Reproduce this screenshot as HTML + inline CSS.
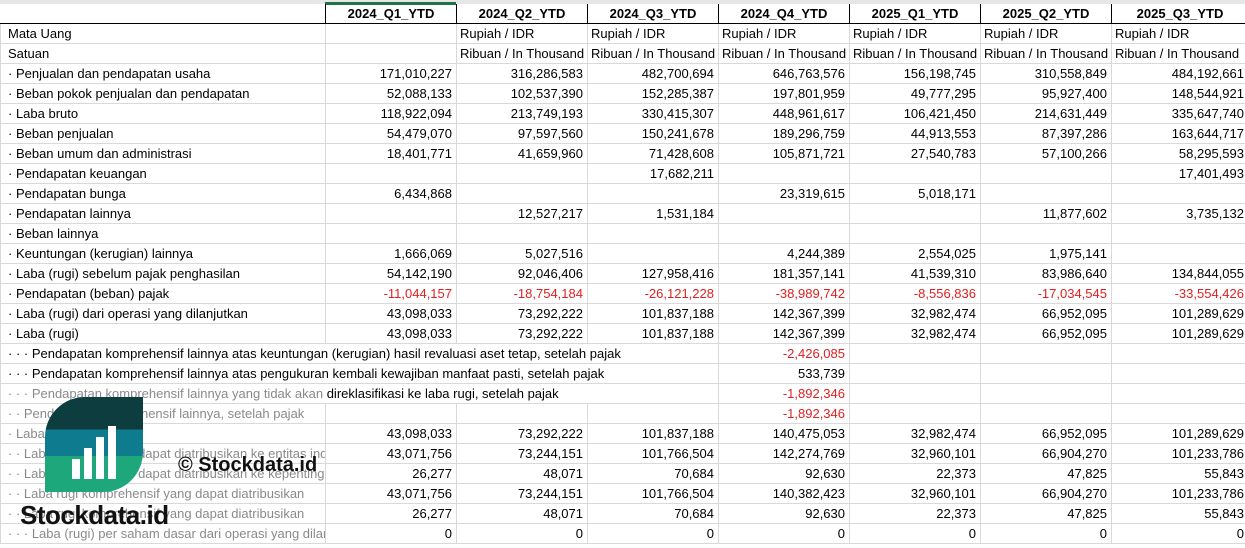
<!DOCTYPE html>
<html><head><meta charset="utf-8"><style>
body{margin:0;width:1245px;height:548px;overflow:hidden;background:#fff;font-family:"Liberation Sans",Arial,sans-serif;font-size:13px;color:#000;position:relative}
.top{position:absolute;left:0;top:0;width:1245px;height:4px;background:#e6e6e6}
.sel{position:absolute;left:325px;top:2px;width:131px;height:3px;background:#217346}
table{position:absolute;left:0;top:4px;border-collapse:collapse;table-layout:fixed;width:1248px}
td{height:19px;padding:0 4px;border:1px solid #d9d9d9;white-space:nowrap;overflow:visible;text-align:right;line-height:19px}
td:first-child{text-align:left;padding-left:7px}
tr.h td{font-weight:bold;text-align:center;border:1px solid #000;border-top:none}
tr.h td:first-child{border-left:none}
td.l{text-align:left;padding-left:3px;overflow:hidden}
.r{color:#e02020}
.g td:first-child{color:#8a8a8a}
.t{border-right-color:transparent}
.m{border-left-color:transparent;border-right-color:transparent}
.e{border-left-color:transparent}
.logo{position:absolute;left:45px;top:397px;width:98px;height:95px;border-radius:40px 0 40px 0;overflow:hidden;background:linear-gradient(#0d3d3f 0,#0d3d3f 34%,#0f7b8e 34%,#0f7b8e 62%,#1fa77c 62%)}
.bar{position:absolute;bottom:13px;width:8px;background:#fff}
.wm{position:absolute;left:20px;top:500px;font-size:26px;font-weight:bold;color:#111;letter-spacing:-0.5px}
.wm2{position:absolute;left:178px;top:454px;font-size:20px;font-weight:bold;color:#111}
</style></head><body>
<div class="top"></div><div class="sel"></div>
<table>
<colgroup><col style="width:325px"><col style="width:131px"><col style="width:131px"><col style="width:131px"><col style="width:131px"><col style="width:131px"><col style="width:131px"><col style="width:137px"></colgroup>
<tr class="h"><td></td><td>2024_Q1_YTD</td><td>2024_Q2_YTD</td><td>2024_Q3_YTD</td><td>2024_Q4_YTD</td><td>2025_Q1_YTD</td><td>2025_Q2_YTD</td><td>2025_Q3_YTD</td></tr>
<tr><td>Mata Uang</td><td></td><td class="l">Rupiah / IDR</td><td class="l">Rupiah / IDR</td><td class="l">Rupiah / IDR</td><td class="l">Rupiah / IDR</td><td class="l">Rupiah / IDR</td><td class="l">Rupiah / IDR</td></tr>
<tr><td>Satuan</td><td></td><td class="l">Ribuan / In Thousand</td><td class="l">Ribuan / In Thousand</td><td class="l">Ribuan / In Thousand</td><td class="l">Ribuan / In Thousand</td><td class="l">Ribuan / In Thousand</td><td class="l">Ribuan / In Thousand</td></tr>
<tr><td>· Penjualan dan pendapatan usaha</td><td>171,010,227</td><td>316,286,583</td><td>482,700,694</td><td>646,763,576</td><td>156,198,745</td><td>310,558,849</td><td>484,192,661</td></tr>
<tr><td>· Beban pokok penjualan dan pendapatan</td><td>52,088,133</td><td>102,537,390</td><td>152,285,387</td><td>197,801,959</td><td>49,777,295</td><td>95,927,400</td><td>148,544,921</td></tr>
<tr><td>· Laba bruto</td><td>118,922,094</td><td>213,749,193</td><td>330,415,307</td><td>448,961,617</td><td>106,421,450</td><td>214,631,449</td><td>335,647,740</td></tr>
<tr><td>· Beban penjualan</td><td>54,479,070</td><td>97,597,560</td><td>150,241,678</td><td>189,296,759</td><td>44,913,553</td><td>87,397,286</td><td>163,644,717</td></tr>
<tr><td>· Beban umum dan administrasi</td><td>18,401,771</td><td>41,659,960</td><td>71,428,608</td><td>105,871,721</td><td>27,540,783</td><td>57,100,266</td><td>58,295,593</td></tr>
<tr><td>· Pendapatan keuangan</td><td></td><td></td><td>17,682,211</td><td></td><td></td><td></td><td>17,401,493</td></tr>
<tr><td>· Pendapatan bunga</td><td>6,434,868</td><td></td><td></td><td>23,319,615</td><td>5,018,171</td><td></td><td></td></tr>
<tr><td>· Pendapatan lainnya</td><td></td><td>12,527,217</td><td>1,531,184</td><td></td><td></td><td>11,877,602</td><td>3,735,132</td></tr>
<tr><td>· Beban lainnya</td><td></td><td></td><td></td><td></td><td></td><td></td><td></td></tr>
<tr><td>· Keuntungan (kerugian) lainnya</td><td>1,666,069</td><td>5,027,516</td><td></td><td>4,244,389</td><td>2,554,025</td><td>1,975,141</td><td></td></tr>
<tr><td>· Laba (rugi) sebelum pajak penghasilan</td><td>54,142,190</td><td>92,046,406</td><td>127,958,416</td><td>181,357,141</td><td>41,539,310</td><td>83,986,640</td><td>134,844,055</td></tr>
<tr><td>· Pendapatan (beban) pajak</td><td class="r">-11,044,157</td><td class="r">-18,754,184</td><td class="r">-26,121,228</td><td class="r">-38,989,742</td><td class="r">-8,556,836</td><td class="r">-17,034,545</td><td class="r">-33,554,426</td></tr>
<tr><td>· Laba (rugi) dari operasi yang dilanjutkan</td><td>43,098,033</td><td>73,292,222</td><td>101,837,188</td><td>142,367,399</td><td>32,982,474</td><td>66,952,095</td><td>101,289,629</td></tr>
<tr><td>· Laba (rugi)</td><td>43,098,033</td><td>73,292,222</td><td>101,837,188</td><td>142,367,399</td><td>32,982,474</td><td>66,952,095</td><td>101,289,629</td></tr>
<tr><td class="t">· · · Pendapatan komprehensif lainnya atas keuntungan (kerugian) hasil revaluasi aset tetap, setelah pajak</td><td class="m"></td><td class="m"></td><td class="e"></td><td class="r">-2,426,085</td><td></td><td></td><td></td></tr>
<tr><td class="t">· · · Pendapatan komprehensif lainnya atas pengukuran kembali kewajiban manfaat pasti, setelah pajak</td><td class="m"></td><td class="m"></td><td class="e"></td><td>533,739</td><td></td><td></td><td></td></tr>
<tr class="g"><td class="t">· · · Pendapatan komprehensif lainnya yang tidak akan <span style="color:#000">direklasifikasi ke laba rugi, setelah pajak</span></td><td class="m"></td><td class="m"></td><td class="e"></td><td class="r">-1,892,346</td><td></td><td></td><td></td></tr>
<tr class="g"><td>· · Pendapatan komprehensif lainnya, setelah pajak</td><td></td><td></td><td></td><td class="r">-1,892,346</td><td></td><td></td><td></td></tr>
<tr class="g"><td>· Laba komprehensif</td><td>43,098,033</td><td>73,292,222</td><td>101,837,188</td><td>140,475,053</td><td>32,982,474</td><td>66,952,095</td><td>101,289,629</td></tr>
<tr class="g"><td style="overflow:hidden">· · Laba komprehensif dapat diatribusikan ke entitas induk</td><td>43,071,756</td><td>73,244,151</td><td>101,766,504</td><td>142,274,769</td><td>32,960,101</td><td>66,904,270</td><td>101,233,786</td></tr>
<tr class="g"><td style="overflow:hidden">· · Laba komprehensif dapat diatribusikan ke kepentingan</td><td>26,277</td><td>48,071</td><td>70,684</td><td>92,630</td><td>22,373</td><td>47,825</td><td>55,843</td></tr>
<tr class="g"><td style="overflow:hidden">· · Laba rugi komprehensif yang dapat diatribusikan</td><td>43,071,756</td><td>73,244,151</td><td>101,766,504</td><td>140,382,423</td><td>32,960,101</td><td>66,904,270</td><td>101,233,786</td></tr>
<tr class="g"><td style="overflow:hidden">· · Laba rugi komprehensif yang dapat diatribusikan</td><td>26,277</td><td>48,071</td><td>70,684</td><td>92,630</td><td>22,373</td><td>47,825</td><td>55,843</td></tr>
<tr class="g"><td style="overflow:hidden">· · · Laba (rugi) per saham dasar dari operasi yang dilanjutkan</td><td>0</td><td>0</td><td>0</td><td>0</td><td>0</td><td>0</td><td>0</td></tr>
</table>
<div class="logo">
<div class="bar" style="left:27px;height:20px"></div>
<div class="bar" style="left:39px;height:31px"></div>
<div class="bar" style="left:51px;height:42px"></div>
<div class="bar" style="left:63px;height:53px"></div>
</div>
<div class="wm2">© Stockdata.id</div>
<div class="wm">Stockdata.id</div>
</body></html>
